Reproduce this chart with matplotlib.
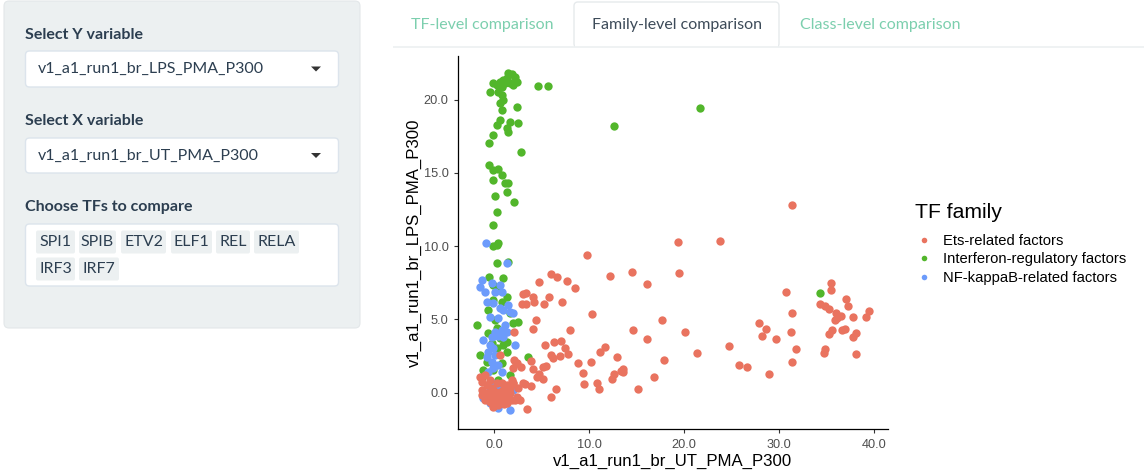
import matplotlib
matplotlib.use("Agg")
import matplotlib.pyplot as plt
from matplotlib.patches import FancyBboxPatch, Polygon, Rectangle
from matplotlib.lines import Line2D

# ---------------- data ----------------
families = ["Ets-related factors", "Interferon-regulatory factors", "NF-kappaB-related factors"]
colors = ["#E9735F", "#52B62B", "#6C9BFB"]

ets_x = [9.78, 19.38, 23.8, 19.5, 14.55, 12.2, 16.05, 5.96, 6.66, 7.64, 4.70, 8.48, 3.08, 3.4, 2.91, 3.36,
         4.07, 4.21, 5.29, 5.78, 7.11, 10.34, 4.42, 4.13, 7.96, 2.07, 17.63, 14.62, 20.05, 16.09, 24.67,
         21.31, 17.88, 16.82, 15.14, 25.76, 26.57, 28.92, 27.83, 28.64, 28.18, 29.69, 30.67, 31.30, 31.27,
         31.72, 31.30, 31.3,
         35.44, 35.4, 34.31, 34.8, 35.19, 35.96, 37.0, 37.26, 35.89, 36.1, 36.5, 37.72, 39.08, 39.43, 35.54,
         35.2, 36.6, 36.9, 38.07, 37.8, 34.77, 34.74, 38.07,
         5.36, 6.31, 7.01, 7.5, 7.81, 5.99, 6.15, 6.97, 8.8, 10.2, 11.15, 11.64, 12.97, 13.6, 13.3, 12.62,
         12.4, 13.6, 9.39, 9.5, 10.8, 11.0, 6.55, 5.96, 3.44, 2.35, 2.87, 3.86, 4.13, 4.73, 5.15, 4.5, 5.12,
         5.46, 3.22, 3.86, 2.1, 1.86, 2.2, 2.03,
         -1.47, -1.3, 0.63, 2.03, 1.86, 2.38, -1.3, -0.77, -0.25, 0.1, 0.63, 1.15, 1.68, 2.38, 2.73, -0.95,
         -0.42, 0.1, 0.63, 1.33, -0.07, -0.6, 0.28, 0.98, 1.86, 0.8, 1.33, 0.28, -0.77, 2.03, -0.42, 1.68,
         2.56, -0.95, 3.08, 0.45, -0.25, 0.98, -1.3, 1.33, 0.45, 0.0, 1.0, -0.5, 0.2, 1.5]
ets_y = [9.37, 10.30, 10.35, 8.14, 8.25, 7.98, 7.44, 8.07, 7.87, 7.62, 7.55, 7.14, 6.75, 6.8, 6.07, 6.07,
         6.51, 6.21, 6.07, 6.53, 6.21, 5.39, 4.98, 4.37, 4.28, 4.14, 4.96, 4.28, 4.14, 3.64, 3.16,
         2.71, 2.25, 1.05, 0.25, 1.87, 1.73, 1.25, 4.73, 4.37, 3.85, 3.66, 6.89, 5.41, 4.16,
         2.96, 2.11, 12.8,
         7.46, 7.03, 6.03, 5.94, 5.69, 5.46, 6.39, 5.89, 4.96, 5.1, 5.2, 5.14, 5.14, 5.59, 4.26,
         3.98, 4.3, 4.35, 4.09, 3.82, 2.98, 2.69, 2.66,
         3.25, 3.44, 3.55, 3.05, 2.64, 2.59, 2.36, 2.48, 2.0, 2.09, 2.80, 3.12, 2.41, 1.64, 1.5, 1.30,
         0.96, 1.4, 1.32, 0.59, 0.64, 0.25, 0.27, -0.29, -1.11, 2.0, 1.75, 2.14, 1.6, 1.30, 0.91, 1.1, 1.77,
         1.82, 0.59, 0.46, 2.2, 0.68, -0.5, 0.64,
         1.1, 0.76, 2.58, 1.67, 0.87, 2.01, 0.19, -0.04, -0.27, -0.04, 0.07, -0.15, -0.04, -0.27, -0.49, -0.49,
         -0.61, -0.72, -0.61, -0.72, -0.95, -0.38, -0.38, -0.49, -0.49, 0.64, 0.53, 0.64, 0.53, 0.64, 0.87, 0.3,
         0.3, 1.21, 0.64, -0.84, 0.3, 0.19, -0.15, -0.38, -0.2, 0.1, -0.8, 0.0, -0.6, 0.1]

irf_x = [1.51, 1.86, 2.21, 2.38, 1.33, 0.98, 0.63, -0.07, -0.42, 0.28, 0.80, 1.15, 1.68, 2.03, 0.45, 0.80,
         0.98, 0.63, 0.80, 2.38, 0.63, 0.28, 1.68, 2.56, 1.33, 1.51, -0.07, -0.49, 2.80, -0.49, -0.07, 0.45,
         -0.07, 0.80, 1.15, 1.51, 1.33, 0.10, 2.10, 0.28, -0.14, -0.07, 0.28, 0.45, 0.28, 1.51, -0.49, 0.91,
         -0.07, 0.45, 1.33, -0.07, 0.80, -0.6, 1.68, 2.56, 2.03, -1.75, 0.10, 0.28, -0.6, 0.63, 1.33, -0.25,
         0.98, 0.28, -1.47, 1.33, -0.77, 0.80, -0.07, -1.12, 1.68, 3.61, -1.3, 0.45,
         4.66, 5.71, 12.62, 21.66, 34.31]
irf_y = [21.79, 21.74, 21.56, 21.22, 21.45, 21.33, 21.22, 21.11, 20.54, 20.99, 20.88, 21.11, 21.11, 20.99,
         20.54, 20.31, 19.97, 19.74, 19.29, 19.51, 18.61, 18.26, 18.49, 18.42, 18.04, 17.81, 17.58, 17.01,
         16.45, 15.54, 15.20, 15.24, 14.51, 14.85, 14.29, 14.29, 13.72, 13.44, 13.03, 12.35, 11.44, 10.01,
         10.08, 10.24, 8.83, 8.9, 7.92, 7.80, 7.35, 7.12, 6.55, 6.33, 6.21, 5.65, 5.42, 4.85, 4.78, 4.62,
         4.96, 4.39, 4.05, 3.71, 3.49, 3.37, 3.26, 3.03, 2.58, 2.80, 2.12, 2.01, 1.55, 1.55, 1.21, 2.46, 1.1,
         0.87,
         20.92, 20.92, 18.19, 19.42, 6.82]

nfkb_x = [-0.88, 1.33, -1.3, -1.47, -0.95, -0.25, 0.63, 0.1, 0.8, -0.77, -0.07, 0.63, 1.51, 0.98, 1.68,
          2.03, -0.42, 0.45, 1.15, 0.80, 0.10, 1.33, -0.25, 0.45, -1.12, 0.98, -0.42, -0.6, -0.07, 2.21,
          0.10, -0.77, -0.25, 0.45, -0.07, -0.6, 0.80, -0.42, -0.07, -1.12, 2.03, 0.45, 1.68, -0.42, 1.15,
          0.28]
nfkb_y = [10.19, 8.83, 7.69, 7.24, 6.9, 7.46, 7.35, 6.9, 6.9, 6.21, 6.1, 5.76, 5.99, 5.65, 5.53,
          5.42, 5.19, 5.08, 4.62, 4.28, 4.17, 4.17, 3.83, 3.87, 3.6, 3.83, 3.26, 2.8, 3.03, 3.26,
          2.58, 2.46, 2.12, 1.89, 1.67, 1.44, 1.44, 0.19, 0.64, -0.38, 0.19, -1.06, -1.18, -0.72, -0.49,
          0.42]

x_ticks = [0, 10, 20, 30, 40]
y_ticks = [0, 5, 10, 15, 20]
x_label = "v1_a1_run1_br_UT_PMA_P300"
y_label = "v1_a1_run1_br_LPS_PMA_P300"
legend_title = "TF family"

W, H = 1144, 475
fig = plt.figure(figsize=(W / 100, H / 100), dpi=100)
fig.patch.set_facecolor("white")

# ---------------- UI overlay (pixel space) ----------------
ui = fig.add_axes([0, 0, 1, 1], zorder=0)
ui.set_xlim(0, W)
ui.set_ylim(H, 0)
ui.axis("off")

dark = "#2c3e50"
FS = 11.5
ui.add_patch(FancyBboxPatch((4, 1), 356, 327, boxstyle="round,pad=0,rounding_size=5",
                            fc="#ecf0f1", ec="#e3e7e9", lw=0.8))

def label(y, s):
    ui.text(25, y, s, fontfamily="Lato", fontweight="bold", fontsize=FS, color=dark, va="center", ha="left")

def select(y0, y1, s):
    ui.add_patch(FancyBboxPatch((25.5, y0), 313, y1 - y0, boxstyle="round,pad=0,rounding_size=4",
                                fc="white", ec="#dce4ec", lw=1.0))
    ui.text(38, (y0 + y1) / 2, s, fontfamily="Lato", fontsize=FS, color=dark, va="center", ha="left")
    cy = (y0 + y1) / 2
    ui.add_patch(Polygon([(311, cy - 2.5), (321, cy - 2.5), (316, cy + 2.5)], closed=True, fc="#333333", ec="none"))

label(35, "Select Y variable")
select(51, 87, "v1_a1_run1_br_LPS_PMA_P300")
label(121, "Select X variable")
select(138, 173, "v1_a1_run1_br_UT_PMA_P300")
label(207, "Choose TFs to compare")
ui.add_patch(FancyBboxPatch((25.5, 224), 313, 62, boxstyle="round,pad=0,rounding_size=4",
                            fc="white", ec="#dce4ec", lw=1.0))
tags = [("SPI1", 36, 75, 242), ("SPIB", 79, 116, 242), ("ETV2", 121, 166, 242), ("ELF1", 171, 212, 242),
        ("REL", 216, 250, 242), ("RELA", 254, 299, 242), ("IRF3", 36, 75, 269), ("IRF7", 79, 119, 269)]
for t, a, b, cy in tags:
    ui.add_patch(FancyBboxPatch((a, cy - 11.5), b - a, 23, boxstyle="round,pad=0,rounding_size=2",
                                fc="#ecf0f1", ec="none"))
    ui.text((a + b) / 2, cy, t, fontfamily="Lato", fontsize=FS, color=dark, va="center", ha="center")

# tabs
ui.plot([393, W], [47, 47], color="#ecf0f1", lw=1.2, solid_capstyle="butt")
ui.add_patch(FancyBboxPatch((574, 2), 205, 45.5, boxstyle="round,pad=0,rounding_size=4",
                            fc="white", ec="#e6eaec", lw=1.0))
ui.add_patch(Rectangle((575, 44), 203, 6, fc="white", ec="none"))
ui.text(482, 25, "TF-level comparison", fontfamily="Lato", fontsize=FS, color="#7ccfae", va="center", ha="center")
ui.text(677, 25, "Family-level comparison", fontfamily="Lato", fontsize=FS, color="#3d4b59", va="center", ha="center")
ui.text(880, 25, "Class-level comparison", fontfamily="Lato", fontsize=FS, color="#7ccfae", va="center", ha="center")

# ---------------- scatter plot ----------------
x0, x1, y0, y1 = 457.7, 888.3, 56.0, 429.3
ax = fig.add_axes([x0 / W, 1 - y1 / H, (x1 - x0) / W, (y1 - y0) / H], zorder=2)
ax.patch.set_alpha(0)
ms = 36
ax.scatter(irf_x, irf_y, s=ms, color=colors[1], linewidths=0, zorder=2)
ax.scatter(nfkb_x, nfkb_y, s=ms, color=colors[2], linewidths=0, zorder=3)
ax.scatter(ets_x, ets_y, s=ms, color=colors[0], linewidths=0, zorder=4)

ax.set_xlim(-3.82, 41.46)
ax.set_ylim(-2.50, 22.97)
ax.set_xticks(x_ticks)
ax.set_yticks(y_ticks)
ax.set_xticklabels([f"{v:.1f}" for v in x_ticks])
ax.set_yticklabels([f"{v:.1f}" for v in y_ticks])
for s in ["top", "right"]:
    ax.spines[s].set_visible(False)
for s in ["left", "bottom"]:
    ax.spines[s].set_linewidth(0.9)
    ax.spines[s].set_color("black")
ax.tick_params(axis="both", length=2.7, width=0.8, color="#333333", labelsize=9.2, labelcolor="#4d4d4d",
               pad=4.0)
for lab in ax.get_xticklabels() + ax.get_yticklabels():
    lab.set_fontfamily("Liberation Sans")
ax.set_xlabel(x_label, fontfamily="Liberation Sans", fontsize=12.1, color="black", labelpad=2)
ax.set_ylabel(y_label, fontfamily="Liberation Sans", fontsize=12.1, color="black", labelpad=1)

handles = [Line2D([], [], marker="o", linestyle="none", markersize=4.0, markerfacecolor=c,
                  markeredgewidth=0) for c in colors]
leg = ax.legend(handles, families, loc="upper left",
                bbox_to_anchor=(911 / W, 1 - 228 / H), bbox_transform=fig.transFigure,
                frameon=False, prop={"family": "Liberation Sans", "size": 10.6},
                handlelength=1.0, handletextpad=0.8, labelspacing=0.30, borderaxespad=0)
fig.text(915 / W, 1 - 218 / H, legend_title, fontfamily="Liberation Sans", fontsize=15.2,
         color="black", va="baseline", ha="left")

fig.savefig("out.png", dpi=100, facecolor="white")
